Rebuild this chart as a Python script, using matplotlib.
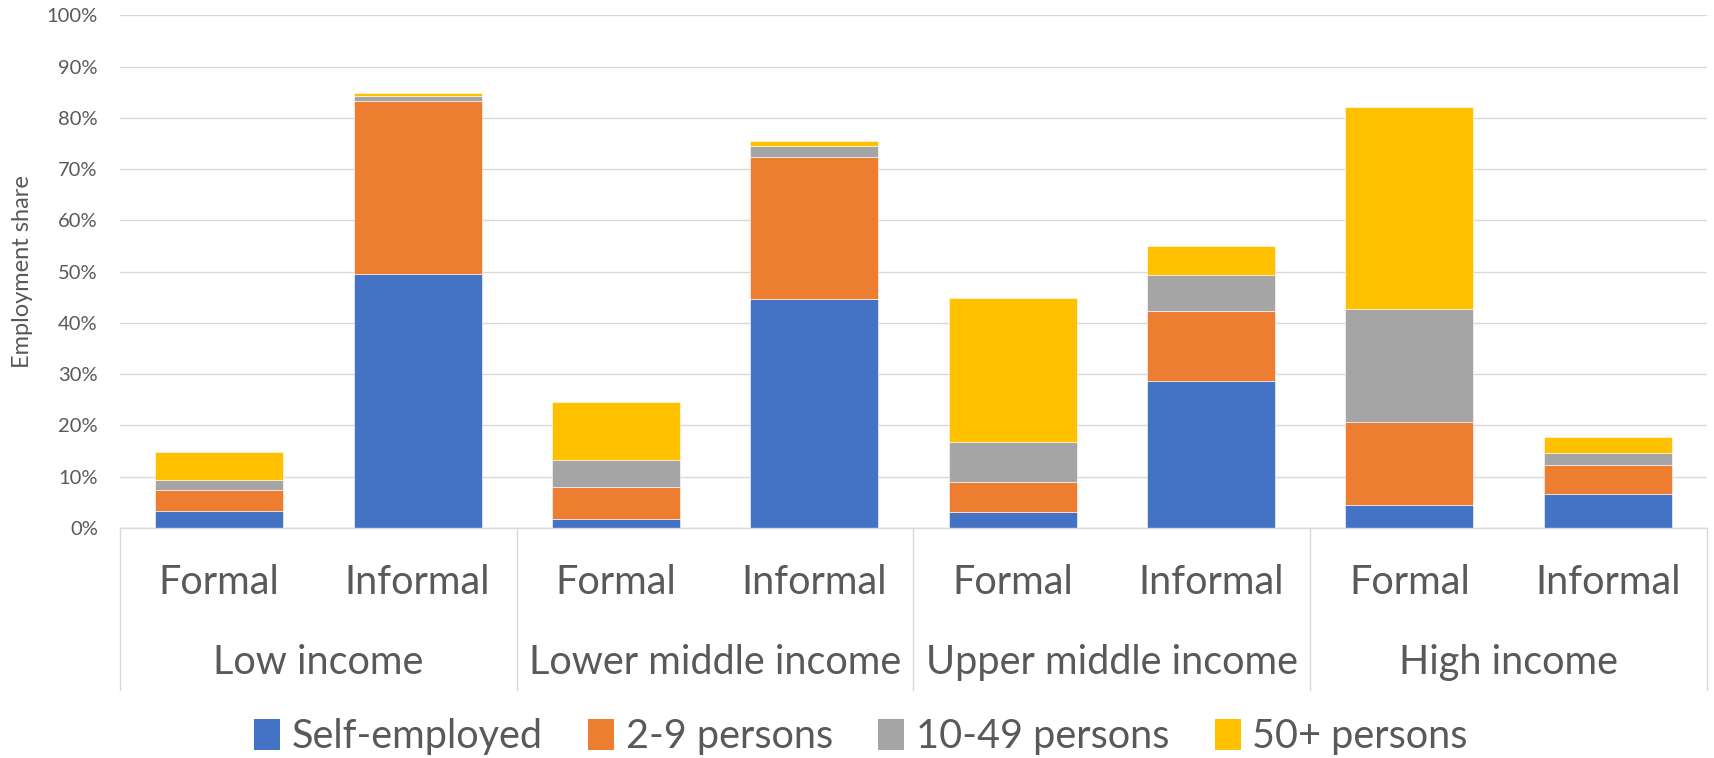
import matplotlib
matplotlib.use("Agg")
import matplotlib.pyplot as plt
import matplotlib.transforms as mtransforms
from matplotlib.patches import Patch
import numpy as np

# Employment share by firm size, for formal / informal jobs within each income group
groups = ["Low income", "Lower middle income", "Upper middle income", "High income"]
job_types = ["Formal", "Informal"]

series_names = ["Self-employed", "2-9 persons", "10-49 persons", "50+ persons"]
self_employed = [3.4, 49.6, 1.7, 44.6, 3.1, 28.6, 4.4, 6.6]
persons_2_9 = [4.0, 33.7, 6.3, 27.8, 5.8, 13.7, 16.2, 5.6]
persons_10_49 = [1.9, 1.0, 5.2, 2.1, 7.9, 7.1, 22.2, 2.4]
persons_50_plus = [5.5, 0.6, 11.3, 1.0, 28.0, 5.6, 39.3, 3.1]

colors = ["#4472C4", "#ED7D31", "#A5A5A5", "#FFC000"]
text_color = "#595959"
grid_color = "#D9D9D9"

plt.rcParams["font.family"] = ["Lato", "DejaVu Sans"]

fig = plt.figure(figsize=(17.15, 7.58), dpi=100)
ax = fig.add_axes([0.070, 0.3034, 0.9253, 0.6764])

series = [self_employed, persons_2_9, persons_10_49, persons_50_plus]
n = len(self_employed)
x = np.arange(n)
bottom = np.zeros(n)
for name, vals, col in zip(series_names, series, colors):
    v = np.array(vals) / 100.0
    ax.bar(x, v, width=0.645, bottom=bottom, color=col, edgecolor="white",
           linewidth=0.4, label=name, zorder=3)
    bottom += v

ax.set_xlim(-0.5, n - 0.5)
ax.set_ylim(0, 1.0)
ticks = np.arange(0, 1.01, 0.1)
ax.set_yticks(ticks)
ax.set_yticklabels([f"{int(round(t * 100))}%" for t in ticks],
                   color=text_color, fontsize=14.5)
ax.tick_params(axis="y", length=0, pad=16)
ax.set_xticks([])
ax.grid(axis="y", color=grid_color, linewidth=1.0, zorder=0)
for s in ax.spines.values():
    s.set_visible(False)

ax.set_ylabel("Employment share", color=text_color, fontsize=17, labelpad=10)

# Two-level category axis
trans = mtransforms.blended_transform_factory(ax.transData, ax.transAxes)
ax.plot([-0.5, n - 0.5], [0, 0], color=grid_color, lw=1.0, transform=trans,
        clip_on=False, zorder=4)
for b in np.arange(-0.5, n, 2):
    ax.plot([b, b], [0, -0.316], color=grid_color, lw=1.0, transform=trans,
            clip_on=False)

for i in range(n):
    ax.text(i, -0.107, job_types[i % 2], transform=trans, ha="center",
            va="center", fontsize=28.5, color=text_color)
for g, name in enumerate(groups):
    ax.text(2 * g + 0.5, -0.263, name, transform=trans, ha="center",
            va="center", fontsize=28.5, color=text_color)

handles = [Patch(facecolor=c, edgecolor="none") for c in colors]
fig.legend(handles, series_names, loc="center", bbox_to_anchor=(0.502, 0.028),
           ncol=4, frameon=False, fontsize=28.5, labelcolor=text_color,
           handlelength=0.65, handleheight=0.85, handletextpad=0.3,
           columnspacing=1.15)

fig.savefig("out.png", dpi=100)
